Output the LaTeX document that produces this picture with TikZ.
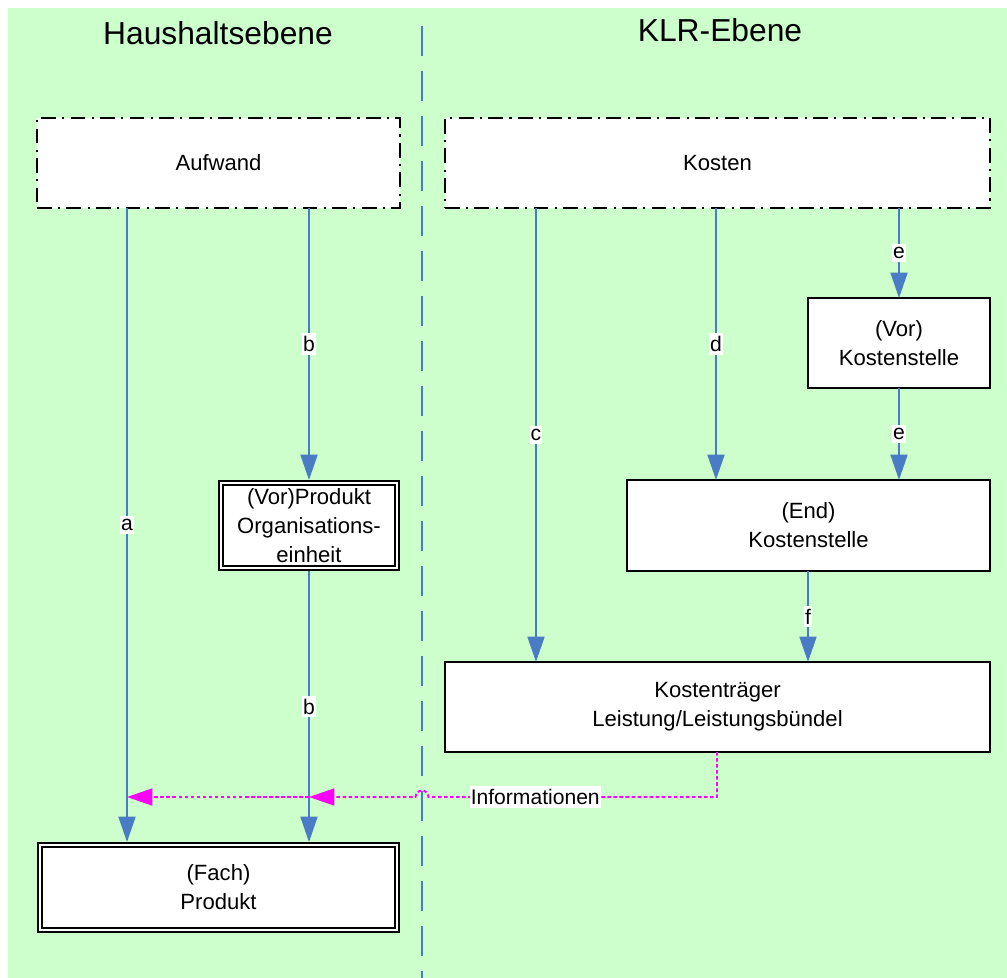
\documentclass[tikz,border=0pt]{standalone}
\usepackage{fontspec}
\setmainfont{Liberation Sans}
\usepackage{xcolor}
\usepackage{tikz}
\usetikzlibrary{arrows.meta, positioning, calc}
\definecolor{bgGreen}{HTML}{CCFFCC}
\definecolor{flowBlue}{HTML}{4A7CC6}
\definecolor{infoMagenta}{HTML}{FF00FF}

\begin{document}
\begin{tikzpicture}[
    x=0.025cm, y=-0.025cm,
    title/.style={font=\fontsize{22.6}{26}\selectfont, inner sep=0pt},
    dbox/.style={rectangle, draw=black, fill=white, line width=1.3pt,
                 dash pattern=on 10.5pt off 4.5pt on 1.5pt off 4.5pt,
                 minimum height=2.25cm, font=\fontsize{15.7}{20.6}\selectfont,
                 align=center, outer sep=0pt},
    sbox/.style={rectangle, draw=black, fill=white, line width=1.3pt,
                 minimum height=2.25cm, font=\fontsize{15.7}{20.6}\selectfont,
                 align=center, outer sep=0pt},
    wbox/.style={rectangle, draw=black, double=white, double distance=1.4pt,
                 line width=1.4pt, fill=white, minimum height=2.125cm,
                 font=\fontsize{15.7}{20.6}\selectfont, align=center, outer sep=2.1pt},
    flow/.style={-{Triangle[length=18pt,width=12pt]}, line width=1.5pt, color=flowBlue},
    info/.style={line width=1.4pt, color=infoMagenta, dash pattern=on 2.5pt off 1.8pt},
    infoarr/.style={info, -{Triangle[length=18pt,width=12pt]}},
    lbl/.style={fill=white, text=black, font=\fontsize{15}{18}\selectfont,
                inner xsep=0.6pt, inner ysep=2pt, solid},
    divider/.style={line width=1.1pt, color=flowBlue, dash pattern=on 21pt off 11pt},
]

% background and bounding box
\useasboundingbox (0,0) rectangle (1007,978);
\fill[bgGreen] (8,8) rectangle (1007,978);
\draw[divider] (422,26) -- (422,978);

% titles
\node[title] (hh)  at (218,33) {Haushaltsebene};
\node[title] (klr) at (720,30) {KLR-Ebene};

% boxes
\node[dbox, minimum width=9.075cm]  (aufwand) at (218.5,163)  {Aufwand};
\node[dbox, minimum width=13.625cm] (kosten)  at (717.5,163)  {Kosten};
\node[sbox, minimum width=4.55cm]   (vorkst)  at (899,343)    {(Vor)\\Kostenstelle};
\node[sbox, minimum width=9.075cm, minimum height=2.275cm] (endkst) at (808.5,525.5) {(End)\\Kostenstelle};
\node[sbox, minimum width=13.625cm] (ktr)     at (717.5,707)  {Kostenträger\\Leistung/Leistungsbündel};
\node[wbox, minimum width=4.4cm]    (vorprod) at (309,525.5)  {(Vor)Produkt\\Organisations-\\einheit};
\node[wbox, minimum width=8.925cm]  (fach)    at (218.5,887.5) {(Fach)\\Produkt};

% columns of the connectors
\coordinate (xa) at (127,0);
\coordinate (xb) at (309,0);
\coordinate (xc) at (536,0);
\coordinate (xd) at (716,0);
\coordinate (xe) at (899,0);
\coordinate (xf) at (808,0);
\coordinate (xi) at (717,0);
\coordinate (xdiv) at (422,0);
\coordinate (yi) at (0,797);

\draw[flow] (aufwand.south -| xa) -- node[lbl] {a} (fach.north -| xa);
\draw[flow] (aufwand.south -| xb) -- node[lbl] {b} (vorprod.north -| xb);
\draw[flow] (vorprod.south -| xb) -- node[lbl] {b} (fach.north -| xb);
\draw[flow] (kosten.south -| xc) -- node[lbl] {c} (ktr.north -| xc);
\draw[flow] (kosten.south -| xd) -- node[lbl] {d} (endkst.north -| xd);
\draw[flow] (kosten.south -| xe) -- node[lbl] {e} (vorkst.north -| xe);
\draw[flow] (vorkst.south -| xe) -- node[lbl] {e} (endkst.north -| xe);
\draw[flow] (endkst.south -| xf) -- node[lbl] {f} (ktr.north -| xf);

% information flow back to the products
\draw[infoarr] (ktr.south -| xi) -- (xi |- yi)
    -- node[lbl, pos=0.63] {Informationen} ($(xdiv |- yi)+(6.5,0)$)
    arc[start angle=0, end angle=180, radius=0.1625cm] -- (xb |- yi);
\draw[infoarr] (xb |- yi) -- (xa |- yi);

\end{tikzpicture}
\end{document}
